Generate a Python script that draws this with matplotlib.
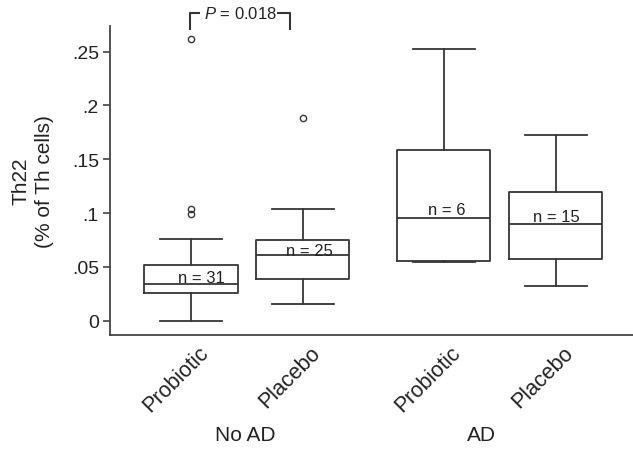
import matplotlib
matplotlib.use("Agg")
import matplotlib.pyplot as plt
from matplotlib.transforms import ScaledTranslation

plt.rcParams['font.family'] = ['Liberation Sans', 'DejaVu Sans']
plt.rcParams['mathtext.fontset'] = 'custom'
plt.rcParams['mathtext.rm'] = 'Liberation Sans'
plt.rcParams['mathtext.it'] = 'Liberation Sans:italic'

# Box summary values (Th22, % of Th cells)
tick_labels = ["Probiotic", "Placebo", "Probiotic", "Placebo"]
groups = ["No AD", "AD"]
n_labels = ["n = 31", "n = 25", "n = 6", "n = 15"]
whislo = [0.0, 0.0155, 0.0548, 0.0320]
q1 = [0.0255, 0.0390, 0.0552, 0.0576]
med = [0.0341, 0.0608, 0.0957, 0.0902]
q3 = [0.0521, 0.0750, 0.1586, 0.1196]
whishi = [0.0762, 0.1038, 0.2519, 0.1729]
fliers = [[0.0992, 0.1038, 0.2618], [0.1884], [], []]
p_text = "$\\it{P}$ = 0.018"

# layout
positions = [1, 2, 3.262, 4.265]
group_x = [1.49, 3.60]
n_dx = [0.095, 0.06, 0.03, 0.007]   # label shift from box centre (data units)
n_dy = [1.2, 0, 2.7, 2.2]           # label lift above median (points)
col = "#363636"

fig = plt.figure(figsize=(6.33, 4.52), dpi=100)
ax = fig.add_axes([110/633, 116/452, 523/633, 309.3/452])

stats = []
for i in range(len(positions)):
    stats.append(dict(whislo=whislo[i], q1=q1[i], med=med[i], q3=q3[i],
                      whishi=whishi[i], fliers=fliers[i]))

lp = dict(color=col, linewidth=1.3)
ax.bxp(stats, positions=positions, widths=0.835, capwidths=0.557,
       showfliers=True, patch_artist=False,
       boxprops=lp, medianprops=lp, whiskerprops=lp, capprops=lp,
       flierprops=dict(marker='o', markersize=4.5, markerfacecolor='none',
                       markeredgecolor=col, markeredgewidth=1.0))

for i in range(len(positions)):
    ax.annotate(n_labels[i], (positions[i] + n_dx[i], med[i]),
                xytext=(0, n_dy[i]), textcoords='offset points',
                ha='center', va='baseline', fontsize=12, color='#222222')

ax.set_xlim(0.2748, 4.957)
ax.set_ylim(-0.0133, 0.274)
ax.set_yticks([0, 0.05, 0.1, 0.15, 0.2, 0.25])
ax.set_yticklabels(["0", ".05", ".1", ".15", ".2", ".25"])
ax.tick_params(axis='y', length=5, width=1.2, color='#444444', labelsize=14,
               labelcolor='#222222', pad=3)
ax.set_xticks(positions)
ax.set_xticklabels(tick_labels, rotation=45, ha='right', va='center',
                   rotation_mode='anchor', fontsize=15.5, color='#222222')
ax.tick_params(axis='x', length=0, pad=10)
off = ScaledTranslation(14/100, 0, fig.dpi_scale_trans)
for lab in ax.get_xticklabels():
    lab.set_transform(lab.get_transform() + off)

for s in ['top', 'right']:
    ax.spines[s].set_visible(False)
for s in ['left', 'bottom']:
    ax.spines[s].set_color('#444444')
    ax.spines[s].set_linewidth(1.3)

ax.set_ylabel("Th22\n(% of Th cells)", fontsize=15, color='#222222',
              labelpad=13, linespacing=1.3)

for gx, g in zip(group_x, groups):
    ax.text(gx, -0.3217, g, transform=ax.get_xaxis_transform(),
            ha='center', va='center', fontsize=15, color='#222222')

# significance bracket above the No AD pair
bx0, bx1 = 0.993, 1.888
ytop, ybot = 0.286, 0.2705
ax.plot([bx0, bx0, bx0 + 0.08], [ybot, ytop, ytop], color=col, lw=1.5,
        clip_on=False)
ax.plot([bx1 - 0.11, bx1, bx1], [ytop, ytop, ybot], color=col, lw=1.5,
        clip_on=False)
ax.text((bx0 + bx1) / 2 + 0.005, ytop, p_text, ha='center', va='center',
        fontsize=12, color='#222222', clip_on=False)

fig.savefig("out.png", dpi=100)
